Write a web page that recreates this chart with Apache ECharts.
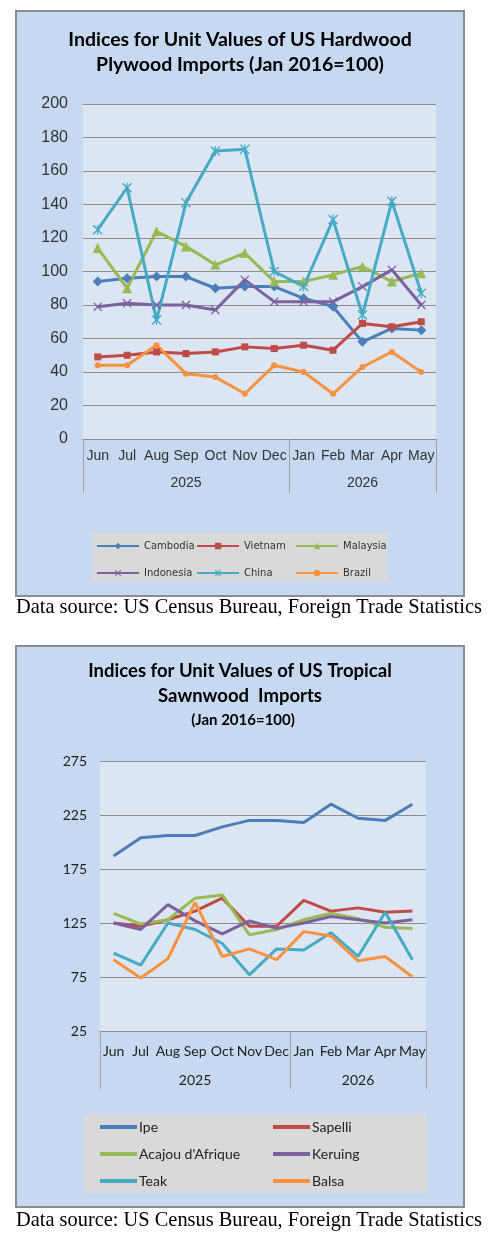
<!DOCTYPE html>
<html>
<head>
<meta charset="utf-8">
<script src="https://cdn.jsdelivr.net/npm/echarts@6/dist/echarts.min.js"></script>
<style>
html,body{margin:0;padding:0;background:#fff;}
#main{width:499px;height:1243px;}
</style>
</head>
<body>
<div id="main"></div>
<script>
// categories
var months = ['Jun','Jul','Aug','Sep','Oct','Nov','Dec','Jan','Feb','Mar','Apr','May'];
var years = ['2025','2026'];
var yearBreaks = [0,7,12];      // where the year groups start / end
var yearCenters = [3.5,9.5];    // where the year labels sit

// hardwood plywood
var cambodia  = [94,96,97,97,90,91,91,84,79,58,66,65];
var vietnam   = [49,50,52,51,52,55,54,56,53,69,67,70];
var malaysia  = [114,90,124,115,104,111,94,94,98,103,94,99];
var indonesia = [79,81,80,80,77,95,82,82,82,91,101,80];
var china     = [125,150,71,141,172,173,100,91,131,74,142,87];
var brazil    = [44,44,56,39,37,27,44,40,27,43,52,40];

// tropical sawnwood
var ipe     = [187,204,206,206,214,220,220,218,235,222,220,235];
var sapelli = [125,122,128,136,148,122,122,146,136,139,135,136];
var acajou  = [134,124,128,148,151,114,119,128,134,129,121,120];
var keruing = [125,119,142,127,115,127,120,125,131,128,125,128];
var teak    = [97,86,125,119,106,77,101,100,116,94,135,91];
var balsa   = [91,74,92,144,94,101,91,117,113,90,94,75];
var sawTicks = [25,75,125,175,225,275];

var chart = echarts.init(document.getElementById('main'));

var xMark = 'path://M0,1L1,0L5,4L9,0L10,1L6,5L10,9L9,10L5,6L1,10L0,9L4,5Z';
var starMark = 'path://M0,1L1,0L5,4L9,0L10,1L6,5L10,9L9,10L5,6L1,10L0,9L4,5Z M4.4,0L5.6,0L5.6,10L4.4,10Z';

function plyLine(name,data,color,symbol,size){
	return {
		name:name, type:'line', data:data, xAxisIndex:0, yAxisIndex:0,
		symbol:symbol, symbolSize:size, showSymbol:true,
		lineStyle:{color:color,width:3},
		itemStyle:{color:color},
		emphasis:{disabled:true}
	}
}
function sawLine(name,data,color){
	return {
		name:name, type:'line', data:data, xAxisIndex:2, yAxisIndex:1,
		symbol:'none', showSymbol:false,
		lineStyle:{color:color,width:3},
		itemStyle:{color:color},
		emphasis:{disabled:true}
	}
}

var catFont = {fontFamily:'Liberation Sans', fontSize:14, color:'#333'};
var sawFont = {fontFamily:'Lato', fontSize:14, color:'#222'};

function monthAxis(grid,font,margin){
	return {
		type:'category', gridIndex:grid, data:months, position:'bottom',
		axisLine:{show:true,lineStyle:{color:'#8c8c8c',width:1}},
		axisTick:{show:false},
		axisLabel:Object.assign({margin:margin,interval:0},font)
	}
}
function yearAxis(grid,font,margin,len){
	return {
		type:'value', gridIndex:grid, min:0, max:12, position:'bottom', offset:0,
		axisLine:{show:false},
		splitLine:{show:false},
		axisTick:{show:true, customValues:yearBreaks, length:len, lineStyle:{color:'#a0a0a0',width:1}},
		axisLabel:Object.assign({customValues:yearCenters, margin:margin, formatter:function(v){
			return years[yearCenters.indexOf(v)];
		}},font)
	}
}

function legendCol(names,left,top,font,gap,w,icon,h){
	var lg = {
		orient:'vertical', left:left, top:top, data:names,
		itemWidth:w, itemHeight:h||8, itemGap:gap, padding:0,
		selectedMode:false,
		textStyle:font
	};
	if(icon) lg.icon = icon;
	return lg;
}

var plyLegendFont = {fontFamily:'DejaVu Sans', fontSize:10, color:'#333'};
var sawLegendFont = {fontFamily:'Lato', fontSize:14, color:'#222', padding:[0,0,0,-3]};

chart.setOption({
	animation:false,
	graphic:{elements:[
		{type:'rect', z:-10, shape:{x:16,y:11,width:448,height:585}, style:{fill:'#c6d9f1',stroke:'#8c8c8c',lineWidth:2}},
		{type:'rect', z:-10, shape:{x:16,y:646,width:448,height:561}, style:{fill:'#c6d9f1',stroke:'#8c8c8c',lineWidth:2}},
		{type:'rect', z:-5, shape:{x:92,y:533,width:296,height:49}, style:{fill:'#d9d9d9'}},
		{type:'rect', z:-5, shape:{x:83,y:1114,width:344,height:79}, style:{fill:'#d9d9d9'}},
		{type:'text', style:{text:'Indices for Unit Values of US Hardwood\nPlywood Imports (Jan 2016=100)', x:240, y:27, textAlign:'center', textVerticalAlign:'top', font:'bold 19.5px Lato', lineHeight:25, fill:'#000'}},
		{type:'text', style:{text:'Indices for Unit Values of US Tropical\nSawnwood  Imports', x:240, y:659, textAlign:'center', textVerticalAlign:'top', font:'bold 18.5px Lato', lineHeight:25, fill:'#000'}},
		{type:'text', style:{text:'(Jan 2016=100)', x:243, y:713, textAlign:'center', textVerticalAlign:'top', font:'bold 15px Lato', fill:'#000'}},
		{type:'text', style:{text:'Data source: US Census Bureau, Foreign Trade Statistics', x:16, y:608, textVerticalAlign:'middle', font:'20.4px "Liberation Serif"', fill:'#000'}},
		{type:'text', style:{text:'Data source: US Census Bureau, Foreign Trade Statistics', x:16, y:1221, textVerticalAlign:'middle', font:'20.4px "Liberation Serif"', fill:'#000'}}
	]},
	grid:[
		{left:83, top:104, width:353, height:335, show:true, backgroundColor:'#dce6f2', borderWidth:0},
		{left:100, top:761, width:326, height:270, show:true, backgroundColor:'#dce6f2', borderWidth:0}
	],
	xAxis:[
		monthAxis(0,catFont,10),
		yearAxis(0,catFont,37,54),
		monthAxis(1,sawFont,13),
		yearAxis(1,sawFont,42,58)
	],
	yAxis:[
		{type:'value', gridIndex:0, min:0, max:200, interval:20,
			axisLine:{show:false}, axisTick:{show:false},
			splitLine:{lineStyle:{color:'#8c8c8c',width:1}},
			axisLabel:{margin:15, fontFamily:'Liberation Sans', fontSize:16, color:'#333'}},
		{type:'value', gridIndex:1, min:25, max:275,
			axisLine:{show:false},
			axisTick:{show:false, customValues:sawTicks},
			splitLine:{lineStyle:{color:'#8c8c8c',width:1}},
			axisLabel:{customValues:sawTicks, margin:13, fontFamily:'Lato', fontSize:14, color:'#222'}}
	],
	legend:[
		legendCol(['Cambodia','Indonesia'],96,541,plyLegendFont,17,42),
		legendCol(['Vietnam','China'],196,541,plyLegendFont,17,42),
		legendCol(['Malaysia','Brazil'],295,541,plyLegendFont,17,42),
		legendCol(['Ipe','Acajou d\'Afrique','Teak'],100,1120,sawLegendFont,13,37,'rect',4),
		legendCol(['Sapelli','Keruing','Balsa'],273,1120,sawLegendFont,13,37,'rect',4)
	],
	series:[
		plyLine('Cambodia',cambodia,'#4a7ebb','diamond',10),
		plyLine('Vietnam',vietnam,'#be4b48','rect',7),
		plyLine('Malaysia',malaysia,'#98b954','triangle',10),
		plyLine('Indonesia',indonesia,'#7d60a0',xMark,9),
		plyLine('China',china,'#46aac5',starMark,10),
		plyLine('Brazil',brazil,'#f69240','circle',6),
		sawLine('Ipe',ipe,'#4a7ebb'),
		sawLine('Sapelli',sapelli,'#be4b48'),
		sawLine('Acajou d\'Afrique',acajou,'#98b954'),
		sawLine('Keruing',keruing,'#7d60a0'),
		sawLine('Teak',teak,'#46aac5'),
		sawLine('Balsa',balsa,'#f69240')
	]
});
</script>
</body>
</html>
